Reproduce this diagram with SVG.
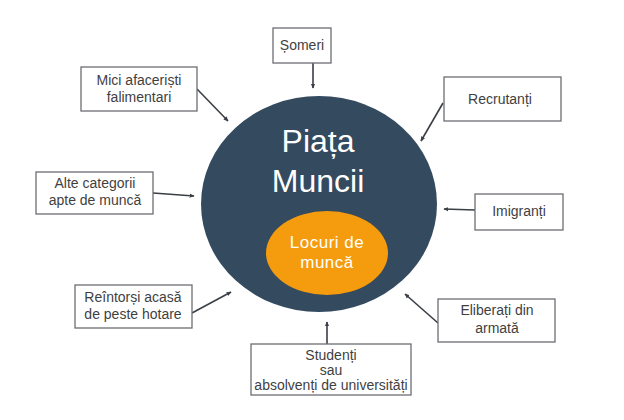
<svg xmlns="http://www.w3.org/2000/svg" width="624" height="420" viewBox="0 0 624 420">
<style>
.box{fill:#fff;stroke:#6b6e73;stroke-width:1.3}
.t{font-family:"Liberation Sans",Arial,sans-serif;font-size:14px;fill:#3f3f3f;text-anchor:middle}
.c{stroke:#3a3f45;stroke-width:1.6;fill:none;marker-end:url(#ah)}
.big{font-family:"Liberation Sans",Arial,sans-serif;font-size:32px;fill:#fff;text-anchor:middle}
.small{font-family:"Liberation Sans",Arial,sans-serif;font-size:17px;fill:#fff;text-anchor:middle;letter-spacing:0.5px}
</style>
<defs>
<marker id="ah" viewBox="0 0 8 8" refX="7" refY="4" markerWidth="5" markerHeight="5" orient="auto" markerUnits="userSpaceOnUse">
<path d="M0,0.5 L8,4 L0,7.5 Z" fill="#3a3f45"/>
</marker>
</defs>
<rect width="624" height="420" fill="#fff"/>
<g id="piata">
<ellipse cx="319" cy="204" rx="118" ry="108" fill="#344a5f"/>
<text class="big" x="318" y="152">Piața</text>
<text class="big" x="318" y="192">Muncii</text>
</g>
<g id="locuri">
<ellipse cx="327" cy="253" rx="61" ry="42" fill="#f59c0e"/>
<text class="small" x="327" y="248">Locuri de</text>
<text class="small" x="327" y="268">muncă</text>
</g>
<g id="connectors">
<line class="c" x1="313" y1="63" x2="313" y2="88"/>
<line class="c" x1="197" y1="89" x2="228" y2="121"/>
<line class="c" x1="443" y1="103" x2="421" y2="141"/>
<line class="c" x1="153" y1="193" x2="194" y2="196"/>
<line class="c" x1="475" y1="210" x2="444" y2="209"/>
<line class="c" x1="192" y1="313" x2="231" y2="292"/>
<line class="c" x1="438" y1="323" x2="405" y2="294"/>
<line class="c" x1="327" y1="344" x2="327" y2="322"/>
</g>
<g id="someri">
<rect class="box" x="273" y="28" width="58" height="35"/>
<text class="t" x="302" y="50">Șomeri</text>
</g>
<g id="mici">
<rect class="box" x="81" y="67" width="116" height="44"/>
<text class="t" x="139" y="85">Mici afaceriști</text>
<text class="t" x="139" y="102">falimentari</text>
</g>
<g id="recrutanti">
<rect class="box" x="444" y="77" width="117" height="44"/>
<text class="t" x="500" y="104">Recrutanți</text>
</g>
<g id="alte">
<rect class="box" x="36" y="172" width="117" height="42"/>
<text class="t" x="95" y="188">Alte categorii</text>
<text class="t" x="95" y="205">apte de muncă</text>
</g>
<g id="imigranti">
<rect class="box" x="475" y="194" width="88" height="36"/>
<text class="t" x="519" y="216">Imigranți</text>
</g>
<g id="reintorsi">
<rect class="box" x="75" y="285" width="117" height="43"/>
<text class="t" x="133" y="302">Reîntorși acasă</text>
<text class="t" x="133" y="319">de peste hotare</text>
</g>
<g id="eliberati">
<rect class="box" x="438" y="299" width="117" height="43"/>
<text class="t" x="497" y="315">Eliberați din</text>
<text class="t" x="497" y="333">armată</text>
</g>
<g id="studenti">
<rect class="box" x="251" y="344" width="160" height="51"/>
<text class="t" x="331" y="360">Studenți</text>
<text class="t" x="331" y="375">sau</text>
<text class="t" x="331" y="390">absolvenți de universități</text>
</g>
</svg>
